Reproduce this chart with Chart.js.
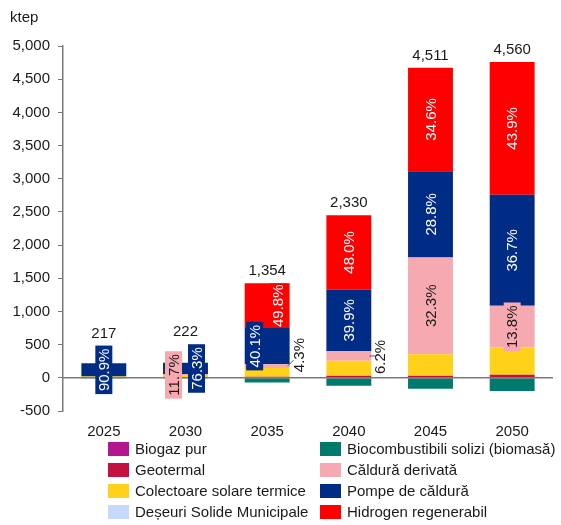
<!DOCTYPE html>
<html>
<head>
<meta charset="utf-8">
<script src="https://cdn.jsdelivr.net/npm/chart.js@4.4.1/dist/chart.umd.min.js"></script>
<style>
html,body{margin:0;padding:0;background:#fff;}
#wrap{position:relative;width:561px;height:525px;}
</style>
</head>
<body>
<div id="wrap"><canvas id="c"></canvas></div>
<script>
// ---- data (ktep) ----
const categories = ['2025','2030','2035','2040','2045','2050'];
const biogazPur        = [1, 1, 3, 6, 8, 10];
const geotermal        = [3, 4, 12, 25, 22, 35];
const colectoareSolare = [17.7, 25, 133, 226, 327, 410];
const deseuriSolide    = [0, 0, 0, 0, 0, 0];
const biocombustibili  = [-2, -3.4, -69.5, -119.6, -163.1, -199.6];
const calduraDerivata  = [0, 26, 58.2, 144.5, 1457.1, 629.3];
const pompeCaldura     = [197.3, 169.4, 543, 929.7, 1299.2, 1673.5];
const hidrogen         = [0, 0, 674.3, 1118.4, 1560.8, 2001.8];
const yTicks = [-500, 0, 500, 1000, 1500, 2000, 2500, 3000, 3500, 4000, 4500, 5000];
const unitLabel = 'ktep';

const seriesNames = ['Biogaz pur','Geotermal','Colectoare solare termice','Deșeuri Solide Municipale',
  'Biocombustibili solizi (biomasă)','Căldură derivată','Pompe de căldură','Hidrogen regenerabil'];
const seriesData = [biogazPur, geotermal, colectoareSolare, deseuriSolide, biocombustibili,
  calduraDerivata, pompeCaldura, hidrogen];
const seriesColors = ['#b3168f','#c3103f','#ffd118','#c7d9fa','#007a6c','#f7a9b1','#002c86','#ff0000'];

// ---- style / layout config ----
const FONT = '"Liberation Sans", Arial, sans-serif';
const TXT = '#1a1a1a';
const pctSeries = [5, 6, 7];            // indices of series with % labels
const pctTextColor = {5: '#1a1a1a', 6: '#ffffff', 7: '#ffffff'};
// horizontal offsets of % labels from bar centre (px), keyed "cat:series"
const pctDx = {'1:5': -12, '1:6': 11, '2:6': -12.5, '2:7': 11};
// labels drawn outside the bar with a leader line
const pctOutside = {'2:5': {dx: 10, dy: -11}, '3:5': {dx: 10, dy: 1}};

const datasets = seriesNames.map((n, i) => ({
  label: n, data: seriesData[i], backgroundColor: seriesColors[i],
  borderWidth: 0, stack: 's', barPercentage: 0.55, categoryPercentage: 1
}));

function fmt(v){ return Math.round(v).toString().replace(/\B(?=(\d{3})+(?!\d))/g, ','); }

const labelPlugin = {
  id: 'labels',
  afterDatasetsDraw(chart) {
    const ctx = chart.ctx, ca = chart.chartArea, ys = chart.scales.y;
    // zero line
    const y0 = ys.getPixelForValue(0);
    ctx.save();
    ctx.strokeStyle = '#7a7a7a'; ctx.lineWidth = 1.5;
    ctx.beginPath(); ctx.moveTo(ca.left, y0); ctx.lineTo(ca.right, y0); ctx.stroke();
    ctx.restore();

    ctx.save();
    ctx.font = '15px ' + FONT;
    const fs = 15;
    categories.forEach((cat, i) => {
      let total = 0;
      seriesData.forEach(s => total += s[i]);
      let topY = Infinity;
      chart.data.datasets.forEach((ds, k) => {
        const el = chart.getDatasetMeta(k).data[i];
        if (ds.data[i] > 0) topY = Math.min(topY, el.y);
      });
      pctSeries.forEach(k => {
        const v = seriesData[k][i];
        if (v <= 0) return;
        const el = chart.getDatasetMeta(k).data[i];
        const txt = (v / total * 100).toFixed(1) + '%';
        const cy = (el.y + el.base) / 2;
        const segH = Math.abs(el.base - el.y);
        const key = i + ':' + k;
        const w = ctx.measureText(txt).width;
        if (pctOutside[key]) {
          const o = pctOutside[key];
          const right = el.x + el.width / 2;
          const lx = right + o.dx, ly = cy + o.dy;
          ctx.strokeStyle = '#555'; ctx.lineWidth = 1;
          ctx.beginPath();
          ctx.moveTo(right - 2, cy);
          ctx.lineTo(lx - 6, o.dy < -3 ? ly + 5 : cy);
          ctx.stroke();
          ctx.save();
          ctx.translate(lx, ly); ctx.rotate(-Math.PI / 2);
          ctx.fillStyle = TXT; ctx.textAlign = 'center'; ctx.textBaseline = 'middle';
          ctx.fillText(txt, 0, 0);
          ctx.restore();
          return;
        }
        const cx = el.x + (pctDx[key] || 0);
        const bw = segH >= w ? Math.min(w + 6, segH) : w + 6, bh = fs + 2;
        ctx.save();
        ctx.translate(cx, cy); ctx.rotate(-Math.PI / 2);
        ctx.fillStyle = seriesColors[k];
        ctx.fillRect(-bw / 2, -bh / 2, bw, bh);
        ctx.fillStyle = pctTextColor[k]; ctx.textAlign = 'center'; ctx.textBaseline = 'middle';
        ctx.fillText(txt, 0, 1);
        ctx.restore();
        topY = Math.min(topY, cy - bw / 2);
      });
      const x = chart.getDatasetMeta(0).data[i].x;
      ctx.fillStyle = TXT; ctx.textAlign = 'center'; ctx.textBaseline = 'middle';
      ctx.fillText(fmt(total), x, topY - 12);
    });
    ctx.restore();
  },
  afterDraw(chart) {
    const ctx = chart.ctx;
    ctx.save();
    ctx.font = '15px ' + FONT;
    ctx.fillStyle = TXT; ctx.textAlign = 'left'; ctx.textBaseline = 'middle';
    ctx.fillText(unitLabel, 10, 18);
    // legend, two columns (column-major)
    const colX = [108, 320], rowY = [449, 470, 491, 512];
    seriesNames.forEach((n, k) => {
      const c = Math.floor(k / 4), r = k % 4;
      ctx.fillStyle = seriesColors[k];
      ctx.fillRect(colX[c], rowY[r] - 7, 21, 14);
      ctx.fillStyle = TXT;
      ctx.fillText(n, colX[c] + 27, rowY[r] + 1);
    });
    ctx.restore();
  }
};

new Chart(document.getElementById('c'), {
  type: 'bar',
  data: { labels: categories, datasets },
  options: {
    responsive: true, maintainAspectRatio: false, animation: false,
    layout: { padding: { top: 46, right: 8, left: 0, bottom: 0 } },
    plugins: { legend: { display: false }, tooltip: { enabled: false } },
    scales: {
      x: {
        stacked: true,
        grid: { display: false },
        border: { display: false },
        ticks: { color: TXT, font: { family: FONT, size: 15 }, padding: 4 },
        afterFit(s) { s.height = 114; }
      },
      y: {
        stacked: true, min: yTicks[0], max: yTicks[yTicks.length - 1],
        afterBuildTicks(s) { s.ticks = yTicks.map(v => ({ value: v })); },
        grid: { drawOnChartArea: false, drawTicks: true, tickLength: 5, tickColor: '#7a7a7a' },
        border: { display: true, color: '#7a7a7a', width: 1.5 },
        ticks: { color: TXT, font: { family: FONT, size: 15 }, padding: 8, callback: v => fmt(v) },
        afterFit(s) { s.width = 63; }
      }
    }
  },
  plugins: [labelPlugin]
});
</script>
</body>
</html>
